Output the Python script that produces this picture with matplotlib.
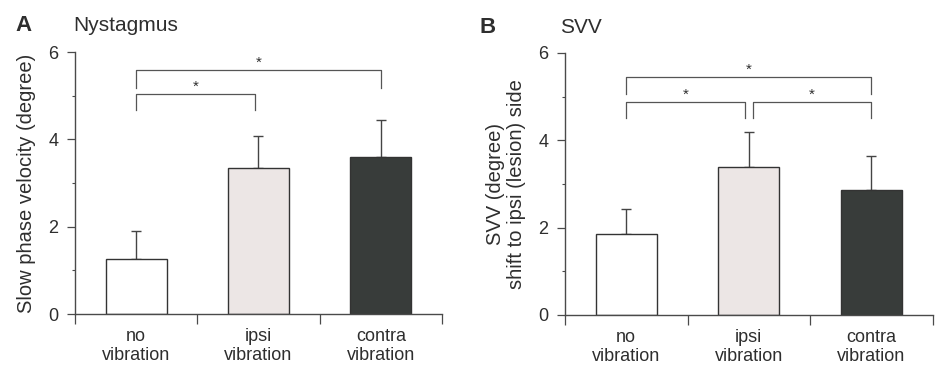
import matplotlib
matplotlib.use("Agg")
import matplotlib.pyplot as plt
from matplotlib.ticker import MultipleLocator, FixedLocator

plt.rcParams['font.family'] = ['Liberation Sans', 'DejaVu Sans']

categories = ["no\nvibration", "ipsi\nvibration", "contra\nvibration"]
nyst_means = [1.27, 3.35, 3.60]
nyst_err = [0.62, 0.72, 0.84]
svv_means = [1.85, 3.39, 2.86]
svv_err = [0.58, 0.79, 0.79]
bar_colors = ["#ffffff", "#ece6e5", "#383c3a"]

# brackets: (left idx, right idx, top y, leg bottom left, leg bottom right, star y)
nyst_brackets = [(0, 0.97, 5.03, 4.68, 4.68, 5.2), (0, 2, 5.58, 5.18, 5.18, 5.76)]
svv_brackets = [(0, 0.97, 4.87, 4.52, 4.52, 5.04), (1.03, 2, 4.87, 4.52, 4.52, 5.04),
                (0, 2, 5.45, 5.06, 5.06, 5.62)]

TXT = "#2e2e2e"
LN = "#4a4a4a"

fig = plt.figure(figsize=(9.36, 3.65), dpi=100)
axA = fig.add_axes([0.0801, 0.1397, 0.3921, 0.7178])
axB = fig.add_axes([0.6036, 0.1370, 0.3929, 0.7181])


def draw(ax, means, errs, brackets):
    x = list(range(len(categories)))
    ax.bar(x, means, width=0.5, color=bar_colors, edgecolor="#333333", linewidth=1.0, zorder=2)
    ax.errorbar(x, means, yerr=[[0] * len(errs), errs], fmt="none", ecolor="#444444",
                elinewidth=1.0, capsize=3.5, capthick=1.0, zorder=1)
    for (l, r, top, bl, br, sy) in brackets:
        ax.plot([l, l, r, r], [bl, top, top, br], color="#555555", lw=0.9, clip_on=False)
        ax.text((l + r) / 2, sy, "*", ha="center", va="center", fontsize=11, color=TXT)
    ax.set_xlim(-0.5, 2.5)
    ax.set_ylim(0, 6)
    ax.spines["top"].set_visible(False)
    ax.spines["right"].set_visible(False)
    for s in ("left", "bottom"):
        ax.spines[s].set_color(LN)
        ax.spines[s].set_linewidth(1.0)
    ax.set_xticks(x)
    ax.set_xticklabels(categories, fontsize=13, color=TXT, linespacing=1.15)
    ax.xaxis.set_minor_locator(FixedLocator([-0.5, 0.5, 1.5, 2.5]))
    ax.tick_params(axis="x", which="major", length=0, pad=10)
    ax.tick_params(axis="x", which="minor", length=7, width=0.9, color=LN, direction="out")
    ax.set_yticks([0, 2, 4, 6])
    ax.yaxis.set_minor_locator(MultipleLocator(1))
    ax.tick_params(axis="y", which="major", length=6, width=0.9, color=LN, labelsize=13,
                   labelcolor=TXT, pad=6)
    ax.tick_params(axis="y", which="minor", length=2.5, width=0.8, color=LN)


draw(axA, nyst_means, nyst_err, nyst_brackets)
draw(axB, svv_means, svv_err, svv_brackets)

axA.set_ylabel("Slow phase velocity (degree)", fontsize=14.5, color=TXT, labelpad=9)
axB.set_ylabel("SVV (degree)\nshift to ipsi (lesion) side", fontsize=14.5, color=TXT,
               labelpad=9, linespacing=1.1)

fig.text(0.016, 0.93, "A", fontsize=16, fontweight="bold", color=TXT, va="center")
fig.text(0.078, 0.93, "Nystagmus", fontsize=15, color=TXT, va="center")
fig.text(0.512, 0.925, "B", fontsize=16, fontweight="bold", color=TXT, va="center")
fig.text(0.598, 0.925, "SVV", fontsize=15, color=TXT, va="center")

fig.savefig("out.png", dpi=100)
